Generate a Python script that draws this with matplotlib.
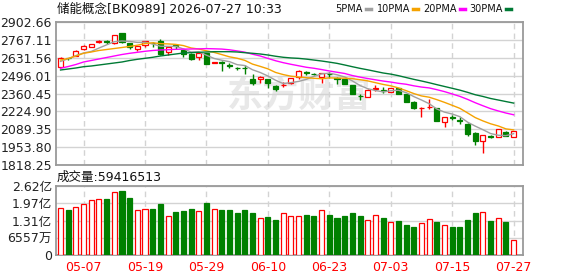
import numpy as np
import matplotlib
matplotlib.use("Agg")
import matplotlib.pyplot as plt
from matplotlib.lines import Line2D
from matplotlib.ticker import FuncFormatter

plt.rcParams['font.family'] = ['DejaVu Sans', 'Noto Sans CJK SC']

title = "储能概念[BK0989] 2026-07-27 10:33"

dates = ["04-29", "04-30", "05-06", "05-07", "05-08", "05-11", "05-12", "05-13", "05-14", "05-15",
         "05-18", "05-19", "05-20", "05-21", "05-22", "05-25", "05-26", "05-27", "05-28", "05-29",
         "06-01", "06-02", "06-03", "06-04", "06-05", "06-08", "06-09", "06-10", "06-11", "06-12",
         "06-15", "06-16", "06-17", "06-18", "06-22", "06-23", "06-24", "06-25", "06-26", "06-29",
         "06-30", "07-01", "07-02", "07-03", "07-06", "07-07", "07-08", "07-09", "07-10", "07-13",
         "07-14", "07-15", "07-16", "07-17", "07-20", "07-21", "07-22", "07-23", "07-24", "07-27"]

opens = [2563.7, 2629.5, 2648.6, 2695.6, 2715.4, 2748.7, 2756.3, 2741.1, 2817.0, 2741.1,
         2700.2, 2730.5, 2745.7, 2760.9, 2675.2, 2726.0, 2690.4, 2660.0, 2635.0, 2665.3,
         2591.8, 2597.1, 2576.6, 2556.1, 2553.9, 2468.2, 2472.7, 2468.2, 2417.4, 2423.0,
         2437.9, 2487.9, 2521.3, 2510.6, 2487.9, 2510.6, 2475.8, 2468.2, 2425.0, 2343.8,
         2336.2, 2396.9, 2384.7, 2374.2, 2399.9, 2356.7, 2298.3, 2250.5, 2258.1, 2248.2,
         2146.6, 2182.3, 2157.2, 2129.2, 2063.3, 2002.6, 2036.0, 2028.4, 2070.8, 2028.4]
highs = [2633.5, 2633.3, 2686.6, 2725.9, 2736.0, 2766.2, 2766.2, 2806.4, 2821.5, 2743.4,
         2723.0, 2758.6, 2753.3, 2771.5, 2713.1, 2733.6, 2694.1, 2669.9, 2667.6, 2667.6,
         2599.4, 2607.0, 2589.5, 2563.7, 2576.6, 2508.4, 2489.4, 2470.5, 2421.2, 2450.0,
         2478.1, 2536.4, 2531.1, 2515.9, 2516.0, 2525.8, 2487.9, 2470.5, 2427.2, 2356.7,
         2390.8, 2425.0, 2412.1, 2404.4, 2404.4, 2359.0, 2299.8, 2255.8, 2316.5, 2252.8,
         2182.3, 2197.5, 2180.1, 2134.5, 2068.6, 2048.1, 2045.8, 2089.0, 2076.4, 2078.4]
lows = [2561.4, 2614.5, 2644.8, 2694.1, 2713.0, 2741.1, 2738.1, 2738.1, 2745.7, 2695.6,
        2685.0, 2715.4, 2715.4, 2656.2, 2652.4, 2695.6, 2635.0, 2614.5, 2614.5, 2580.4,
        2588.0, 2533.4, 2551.6, 2538.7, 2508.4, 2422.7, 2437.9, 2400.0, 2381.7, 2407.5,
        2432.5, 2470.5, 2500.8, 2497.0, 2442.4, 2475.8, 2432.5, 2428.8, 2354.4, 2311.2,
        2333.9, 2381.7, 2362.0, 2371.9, 2354.4, 2296.0, 2246.7, 2180.1, 2240.7, 2151.9,
        2108.8, 2159.5, 2129.2, 2038.2, 1970.0, 1911.6, 2020.6, 2026.8, 2034.4, 2026.8]
closes = [2627.4, 2626.0, 2682.8, 2722.9, 2733.6, 2756.3, 2751.0, 2804.1, 2748.7, 2715.4,
          2720.7, 2756.3, 2741.1, 2660.0, 2710.8, 2720.7, 2660.0, 2624.4, 2665.3, 2584.2,
          2597.1, 2591.8, 2571.3, 2551.6, 2550.1, 2437.9, 2487.9, 2437.9, 2392.3, 2423.0,
          2475.8, 2533.4, 2516.0, 2506.1, 2513.7, 2506.1, 2470.5, 2432.5, 2356.7, 2339.3,
          2387.0, 2399.9, 2381.7, 2399.9, 2356.7, 2298.3, 2248.2, 2252.8, 2260.4, 2154.2,
          2179.9, 2177.0, 2151.9, 2053.4, 2002.6, 2045.8, 2030.5, 2087.5, 2038.2, 2076.4]

volumes = [178000000, 172000000, 182000000, 194000000, 210000000, 212000000, 213000000, 240000000, 244000000, 217000000,
           172000000, 175000000, 175000000, 194000000, 149000000, 165000000, 168000000, 175000000, 168000000, 199000000,
           175000000, 172000000, 172000000, 161000000, 172000000, 161000000, 141000000, 146000000, 134000000, 160000000,
           149000000, 149000000, 153000000, 149000000, 172000000, 153000000, 141000000, 149000000, 160000000, 149000000,
           134000000, 153000000, 141000000, 126000000, 130000000, 115000000, 107000000, 122000000, 138000000, 126000000,
           115000000, 107000000, 107000000, 134000000, 160000000, 164000000, 130000000, 141000000, 126000000, 59416513]

ma5 = [2604.0, 2624.0, 2648.0, 2668.0, 2679.2, 2705.0, 2729.3, 2753.6, 2758.7, 2755.1,
       2748.0, 2749.0, 2736.4, 2718.7, 2717.8, 2717.8, 2698.5, 2675.2, 2676.2, 2650.9,
       2626.2, 2612.6, 2601.9, 2579.2, 2572.4, 2540.5, 2519.8, 2493.1, 2461.2, 2435.4,
       2443.0, 2452.1, 2467.7, 2490.5, 2509.0, 2515.1, 2502.5, 2485.8, 2455.9, 2421.0,
       2397.2, 2383.1, 2372.9, 2381.6, 2385.0, 2367.3, 2337.0, 2311.2, 2283.3, 2242.8,
       2219.1, 2204.9, 2184.7, 2143.3, 2113.0, 2086.1, 2056.8, 2044.0, 2040.9, 2055.7]
ma10 = [2614.5, 2625.9, 2644.9, 2665.3, 2675.2, 2686.6, 2694.1, 2701.7, 2709.3, 2717.2,
        2726.5, 2739.2, 2745.0, 2738.7, 2736.4, 2732.9, 2723.8, 2705.8, 2697.4, 2684.3,
        2672.0, 2655.5, 2638.5, 2627.7, 2611.6, 2583.3, 2566.1, 2547.5, 2520.2, 2503.9,
        2491.7, 2485.9, 2480.4, 2475.8, 2472.2, 2479.0, 2477.2, 2476.7, 2473.1, 2464.9,
        2456.1, 2442.7, 2429.3, 2418.7, 2403.0, 2382.2, 2360.0, 2342.0, 2332.4, 2313.9,
        2293.2, 2270.9, 2247.9, 2213.2, 2177.8, 2152.6, 2130.8, 2114.3, 2092.1, 2084.3]
ma20 = [2551.6, 2565.2, 2580.4, 2599.4, 2610.7, 2622.1, 2633.5, 2644.9, 2656.2, 2665.3,
        2672.9, 2680.5, 2686.6, 2690.4, 2692.6, 2695.7, 2697.0, 2698.0, 2699.0, 2700.8,
        2699.3, 2697.4, 2691.8, 2683.3, 2674.1, 2658.2, 2645.0, 2626.7, 2608.9, 2594.2,
        2581.9, 2570.8, 2559.5, 2551.8, 2542.0, 2531.2, 2521.8, 2512.2, 2496.7, 2484.5,
        2474.0, 2464.4, 2454.9, 2447.3, 2437.7, 2430.7, 2418.7, 2409.4, 2402.8, 2389.5,
        2374.7, 2356.9, 2338.7, 2316.0, 2290.5, 2267.5, 2245.5, 2228.2, 2212.3, 2199.2]
ma30 = [2538.7, 2546.3, 2553.9, 2563.7, 2569.0, 2576.6, 2584.2, 2591.8, 2599.4, 2610.7,
        2619.8, 2627.4, 2635.0, 2644.9, 2652.4, 2660.0, 2667.6, 2669.9, 2672.9, 2675.2,
        2677.5, 2677.5, 2677.5, 2675.2, 2669.9, 2665.3, 2660.0, 2652.4, 2643.0, 2635.1,
        2630.1, 2626.9, 2621.3, 2614.1, 2606.8, 2598.4, 2589.1, 2576.7, 2563.6, 2551.1,
        2540.0, 2528.1, 2516.1, 2507.4, 2495.6, 2481.6, 2467.8, 2455.4, 2442.0, 2427.6,
        2413.7, 2399.9, 2385.9, 2369.3, 2351.1, 2338.0, 2322.7, 2311.1, 2299.3, 2287.8]

ma_labels = ["5PMA", "10PMA", "20PMA", "30PMA"]
price_ticks = [1818.25, 1953.80, 2089.35, 2224.90, 2360.45, 2496.01, 2631.56, 2767.11, 2902.66]
vol_ticks = [0, 65570000, 131140000, 196710000, 262280000]

RED = '#ff0000'
GREEN = '#008000'
GRID = '#d3d3d3'
BORDER = '#9a9a9a'
MA_COLORS = ['#a0a0a0', '#f5a200', '#ff00ff', '#007a35']

o = np.array(opens)
c = np.array(closes)
x = np.arange(len(c))
prev = np.r_[c[0], c[:-1]]
up = (c > o) | ((c == o) & (c >= prev))
cols = np.where(up, RED, GREEN)
faces = np.where(up, 'white', GREEN)

fig = plt.figure(figsize=(5.78, 2.76), dpi=100)
ax = fig.add_axes([56 / 578, 1 - 165 / 276, 467 / 578, 143 / 276])
axv = fig.add_axes([56 / 578, 1 - 255.3 / 276, 467 / 578, 69.3 / 276])

# watermark
ax.text(0.52, 0.48, "东方财富", transform=ax.transAxes, fontsize=26, fontweight='bold',
        color='#e8e8e8', ha='center', va='center', zorder=0)

# candles
ax.vlines(x, lows, highs, colors=cols, lw=1, zorder=2)
ax.bar(x, np.maximum(np.abs(c - o), 0.5), bottom=np.minimum(o, c), width=0.66,
       color=faces, edgecolor=cols, lw=0.9, zorder=3)

for vals, col in zip([ma5, ma10, ma20, ma30], MA_COLORS):
    ax.plot(x, vals, color=col, lw=1, zorder=4)

# volume
axv.bar(x, volumes, width=0.66, color=faces, edgecolor=cols, lw=0.9, zorder=3)

label_idx = list(range(3, len(dates), 8))
for a in (ax, axv):
    a.set_xlim(-0.59, 60.22)
    a.set_xticks(label_idx)
    a.grid(axis='x', color=GRID, ls=(0, (4, 3)), lw=1)
    a.grid(axis='y', color=GRID, ls='-', lw=1)
    a.set_axisbelow(True)
    a.tick_params(length=0, labelsize=9, colors='#222222', pad=3)
    for s in a.spines.values():
        s.set_color(BORDER)
        s.set_linewidth(1.3)

ax.set_ylim(price_ticks[0], price_ticks[-1])
ax.set_yticks(price_ticks)
ax.set_yticklabels([f"{t:.2f}" for t in price_ticks])
ax.set_xticklabels([])


def vol_fmt(v, pos):
    if v >= 1e8:
        return f"{v / 1e8:.2f}亿"
    if v > 0:
        return f"{v / 1e4:.0f}万"
    return "0"


axv.set_ylim(0, vol_ticks[-1])
axv.set_yticks(vol_ticks)
axv.yaxis.set_major_formatter(FuncFormatter(vol_fmt))
axv.set_xticklabels([dates[i] for i in label_idx])
axv.tick_params(axis='x', colors=RED, pad=4)

fig.text(57 / 578, 1 - 9 / 276, title, fontsize=9, va='center', color='#111111')
fig.text(57 / 578, 1 - 177 / 276, f"成交量:{int(volumes[-1])}", fontsize=9,
         va='center', color='#111111')

# legend row: label then a short colour bar
key_ends = [371, 418, 465, 511]
ly = 1 - 9 / 276
for lab, col, xe in zip(ma_labels, MA_COLORS, key_ends):
    fig.text((xe - 8) / 578, ly, lab, fontsize=7, ha='right', va='center', color='#111111')
    fig.add_artist(Line2D([(xe - 5.5) / 578, xe / 578], [ly, ly], color=col, lw=2.5,
                          transform=fig.transFigure))

fig.savefig("out.png", dpi=100)
